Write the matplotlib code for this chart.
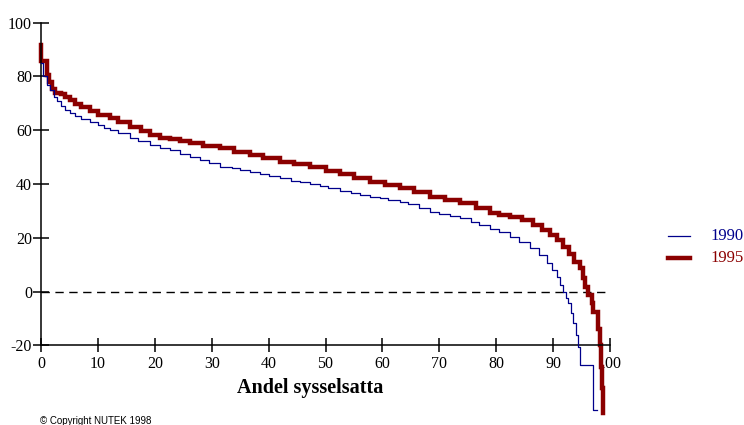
import matplotlib
matplotlib.use("Agg")
import matplotlib.pyplot as plt
from matplotlib.lines import Line2D

series_names = ["1990", "1995"]
series_colors = ["#00008B", "#8B0000"]

x_1990 = [0, 0.4, 1.0, 1.6, 2.2, 2.8, 3.5, 4.2, 5.1, 6.0, 7.0, 8.6, 10.0, 11.0, 12.1,
          13.5, 15.6, 17.0, 19.2, 21.0, 22.7, 24.5, 26.2, 28.0, 29.5, 31.5, 33.5, 35.0,
          36.7, 38.5, 40.0, 42.0, 44.0, 45.5, 47.3, 49.0, 50.5, 52.5, 54.5, 56.0, 57.8,
          59.5, 61.0, 63.1, 64.5, 66.5, 68.4, 70.0, 71.8, 73.6, 75.5, 77.0, 78.9, 80.5,
          82.4, 84.0, 85.9, 87.5, 88.9, 89.8, 90.6, 91.3, 91.8, 92.3, 92.7, 93.1, 93.5,
          94.0, 94.4, 94.7, 97.0, 97.8]
y_1990 = [85, 80, 77, 75, 72.5, 70.7, 69, 67.5, 66.4, 65.3, 64.3, 63.2, 61.8, 61, 60.1,
          58.8, 57.1, 56, 54.6, 53.5, 52.7, 51.3, 50, 48.8, 47.8, 46.5, 45.8, 45.2,
          44.6, 43.7, 43.0, 42.2, 41.3, 40.7, 40.0, 39.2, 38.4, 37.5, 36.8, 36.0, 35.3,
          34.8, 34.0, 33.4, 32.5, 31.0, 29.7, 29.0, 28.2, 27.3, 26.0, 24.8, 23.2, 22.0,
          20.4, 18.6, 16.1, 13.5, 10.5, 8.0, 5.5, 2.5, 0, -2.5, -4.4, -8.0, -11.8,
          -16.0, -20.5, -27.4, -44.1, -44.1]

x_1995 = [0, 0.05, 1.0, 1.4, 1.9, 2.4, 3.5, 4.3, 5.1, 6.0, 7.0, 8.6, 10.0, 12.1, 13.5,
          15.6, 17.5, 19.2, 21.0, 22.7, 24.5, 26.2, 28.5, 31.5, 34.0, 36.7, 39.0, 42.0,
          44.5, 47.3, 50.0, 52.5, 55.0, 57.8, 60.5, 63.1, 65.5, 68.4, 71.0, 73.6, 76.5,
          78.9, 80.5, 82.4, 84.5, 86.5, 88.0, 89.5, 90.7, 91.8, 92.8, 93.6, 94.7, 95.2,
          95.6, 96.2, 96.8, 97.1, 97.9, 98.2, 98.4, 98.55, 98.7, 98.75]
y_1995 = [91.8, 85.6, 80.5, 78, 75.5, 73.8, 73.3, 72.3, 71.3, 69.8, 68.5, 67, 65.8, 64.5, 63,
          61.1, 59.7, 58.3, 57.2, 56.7, 55.9, 55.2, 54.3, 53.3, 52.0, 50.8, 49.7, 48.3,
          47.3, 46.3, 45.0, 43.6, 42.3, 40.9, 39.7, 38.4, 37.0, 35.3, 34.0, 32.8, 31.0,
          29.1, 28.6, 27.9, 26.5, 24.8, 23.0, 21.0, 19.0, 16.7, 14.0, 11.1, 8.6, 5.0,
          1.8, -1.3, -4.4, -7.5, -14, -20, -28, -36, -45, -45]

x_ticks = [0, 10, 20, 30, 40, 50, 60, 70, 80, 90, 100]
y_ticks = [-20, 0, 20, 40, 60, 80, 100]
x_label = "Andel sysselsatta"
copyright_text = "\u00a9 Copyright NUTEK 1998"

W, H = 744, 425
fig = plt.figure(figsize=(W / 100, H / 100), dpi=100)
ax = fig.add_axes([41 / W, 1 - 345.3 / H, 569 / W, 322.6 / H])
ax.set_xlim(0, 100)
ax.set_ylim(-20, 100)

ax.axhline(0, color="black", lw=1.0, ls=(0, (6, 4)), zorder=1)

ax.plot(x_1990, y_1990, drawstyle="steps-post", color=series_colors[0], lw=0.9,
        clip_on=False, zorder=3)
ax.plot(x_1995, y_1995, drawstyle="steps-post", color=series_colors[1], lw=3.2,
        clip_on=False, zorder=2, solid_joinstyle="miter")

for s in ["top", "right"]:
    ax.spines[s].set_visible(False)
for s in ["left", "bottom"]:
    ax.spines[s].set_linewidth(1.1)
    ax.spines[s].set_color("black")

ax.set_xticks(x_ticks)
ax.set_yticks(y_ticks)
ax.set_xticklabels([str(v) for v in x_ticks])
ax.set_yticklabels([str(v) for v in y_ticks])
ax.tick_params(axis="y", direction="inout", length=12, width=1.1, pad=0.5,
               labelsize=11.5)
ax.tick_params(axis="x", direction="inout", length=9.5, width=1.1, pad=3,
               labelsize=11.5)
for lab in ax.get_xticklabels() + ax.get_yticklabels():
    lab.set_family("Liberation Serif")

fig.text(310 / W, 1 - 388 / H, x_label, ha="center", va="center",
         family="Liberation Serif", fontweight="bold", fontsize=14.5)
fig.text(40 / W, 1 - 421 / H, copyright_text, ha="left", va="center",
         family="Liberation Sans", fontsize=7)

# legend
for i, (name, col) in enumerate(zip(series_names, series_colors)):
    yy = 1 - (236 + 22 * i) / H
    lw = 0.9 if i == 0 else 3.2
    fig.add_artist(Line2D([668 / W, 690 / W], [yy, yy], color=col, lw=lw))
    fig.text(710 / W, yy, name, color=col, ha="left", va="center",
             family="Liberation Serif", fontsize=12)

fig.savefig("out.png", dpi=100)
